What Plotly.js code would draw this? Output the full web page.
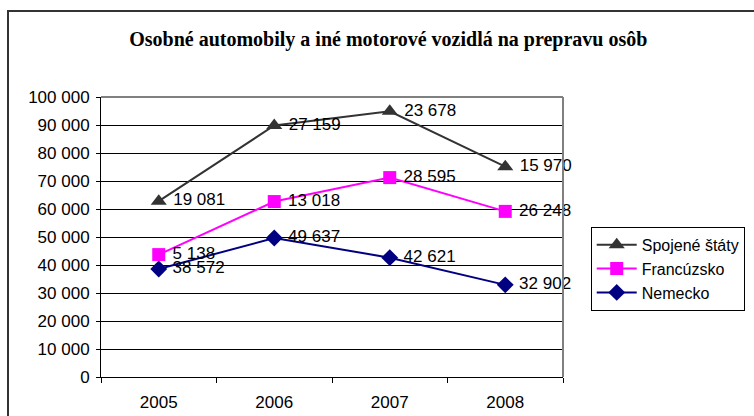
<!DOCTYPE html>
<html><head><meta charset="utf-8">
<script src="https://cdn.plot.ly/plotly-3.0.1.min.js"></script>
<style>
html,body{margin:0;padding:0;background:#fff;overflow:hidden;}
#frame{position:absolute;left:7px;top:10px;width:800px;height:450px;border:2px solid #333;box-sizing:border-box;}
#chart{position:absolute;left:0;top:0;width:754px;height:416px;}
</style></head>
<body>
<div id="frame"></div>
<div id="chart"></div>
<script>
const years = ['2005','2006','2007','2008'];
const nemecko = [38572, 49637, 42621, 32902];
const francuzsko = [5138, 13018, 28595, 26248];
const spojeneStaty = [19081, 27159, 23678, 15970];
const yTicks = [0,10000,20000,30000,40000,50000,60000,70000,80000,90000,100000];

const fmt = v => String(v).replace(/\B(?=(\d{3})+(?!\d))/g, ' ');
const mk = (name, vals, color, symbol, size) => ({
  x: years, y: vals, name: name, type: 'scatter', stackgroup: 'one', fill: 'none',
  mode: 'lines+markers+text', text: vals.map(fmt), texttemplate: ' %{text}', textposition: 'middle right',
  cliponaxis: false,
  textfont: {family: 'Liberation Sans, Arial', size: 17, color: '#000'},
  line: {color: color, width: 2}, marker: {color: color, symbol: symbol, size: size},
  hoverinfo: 'x+text+name'
});
const data = [
  mk('Nemecko', nemecko, '#000080', 'diamond', 13),
  mk('Francúzsko', francuzsko, '#FF00FF', 'square', 13),
  mk('Spojené štáty', spojeneStaty, '#333333', 'triangle-up', 14)
];
const layout = {
  width: 754, height: 416,
  margin: {l: 101, r: 191, t: 97, b: 39, autoexpand: false},
  paper_bgcolor: 'rgba(0,0,0,0)', plot_bgcolor: '#fff',
  separators: ', ',
  font: {family: 'Liberation Sans, Arial', size: 17, color: '#000'},
  title: {text: 'Osobné automobily a iné motorové vozidlá na prepravu osôb',
    font: {family: 'Liberation Serif, Times New Roman', size: 20, color: '#000', weight: 'bold'},
    x: 0.515, xanchor: 'center', y: 0.907, yanchor: 'middle'},
  xaxis: {type: 'category', range: [-0.5, 3.5], tickson: 'boundaries', ticks: 'outside', ticklen: 5,
    tickcolor: '#000', showline: true, linecolor: '#000', linewidth: 1, showgrid: false,
    ticklabelstandoff: 10, fixedrange: true, automargin: false},
  yaxis: {range: [0, 100000], tickvals: yTicks, tickformat: ',d', ticks: 'outside', ticklen: 4,
    tickcolor: '#000', showline: true, linecolor: '#000', linewidth: 1, ticklabelstandoff: 3,
    showgrid: true, gridcolor: '#000', gridwidth: 1, zeroline: false, fixedrange: true, automargin: false},
  showlegend: true,
  legend: {traceorder: 'reversed', x: 1.06, xanchor: 'left', y: 0.536, yanchor: 'top',
    bordercolor: '#000', borderwidth: 1, bgcolor: '#fff',
    font: {family: 'Liberation Sans, Arial', size: 16, color: '#000'}, tracegroupgap: 0, itemwidth: 40},
  shapes: [
    {type: 'line', xref: 'paper', yref: 'paper', x0: 0, x1: 1, y0: 1, y1: 1, line: {color: '#808080', width: 2}},
    {type: 'line', xref: 'paper', yref: 'paper', x0: 1, x1: 1, y0: 0, y1: 1, line: {color: '#808080', width: 2}}
  ]
};
Plotly.newPlot('chart', data, layout, {displayModeBar: false, staticPlot: true});
</script>
</body></html>
